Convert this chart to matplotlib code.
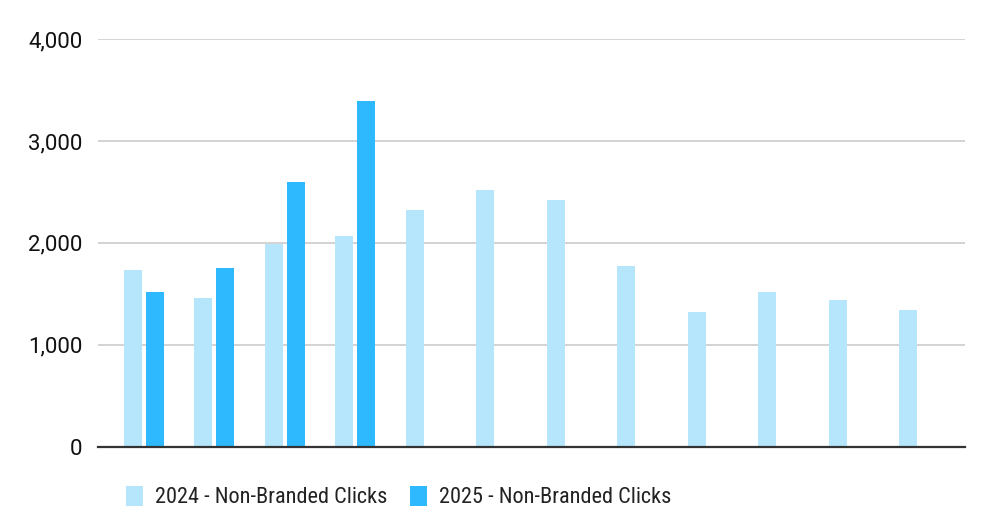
import numpy as np
import matplotlib
matplotlib.use("Agg")
import matplotlib.pyplot as plt
from matplotlib.patches import Patch
from matplotlib import font_manager

plt.rcParams['font.family'] = ['Roboto', 'DejaVu Sans']

# monthly non-branded clicks (12 months, 2025 only has the first 4)
months = np.arange(12)
clicks_2024 = [1730, 1455, 1985, 2065, 2320, 2515, 2418, 1770, 1320, 1515, 1438, 1340]
clicks_2025 = [1514, 1752, 2595, 3396]

yticks = [0, 1000, 2000, 3000, 4000]
ytick_labels = ['0', '1,000', '2,000', '3,000', '4,000']
series_labels = ['2024 - Non-Branded Clicks', '2025 - Non-Branded Clicks']

LIGHT = '#b5e6fc'
DARK = '#2eb8fe'

# legend text in the reference is narrow; use a condensed face if one exists
names = {f.name for f in font_manager.fontManager.ttflist}
if 'Roboto Condensed' in names:
    legend_font, legend_size = 'Roboto Condensed', 16
else:
    legend_font, legend_size = 'Roboto', 13

fig = plt.figure(figsize=(9.91, 5.26), dpi=100)
ax = fig.add_axes([0.0989, 0.1507, 0.8749, 0.7751])

w = 0.256
off = 0.156
ax.bar(months - off, clicks_2024, width=w, color=LIGHT, zorder=3)
ax.bar(months[:len(clicks_2025)] + off, clicks_2025, width=w, color=DARK, zorder=3)

ax.set_xlim(-0.65, 11.65)
ax.set_ylim(0, 4000)
ax.set_yticks(yticks)
ax.set_yticklabels(ytick_labels, fontsize=16, color='#111111')
ax.set_xticks([])
ax.tick_params(axis='y', length=0, pad=11)
ax.grid(axis='y', color='#c8c8c8', linewidth=1.1, zorder=0)
for side in ['top', 'right', 'left']:
    ax.spines[side].set_visible(False)
ax.spines['bottom'].set_color('#333333')
ax.spines['bottom'].set_linewidth(1.6)
ax.spines['bottom'].set_zorder(4)

handles = [Patch(facecolor=LIGHT, label=series_labels[0]),
           Patch(facecolor=DARK, label=series_labels[1])]
leg = fig.legend(handles=handles, loc='center', bbox_to_anchor=(0.402, 0.055),
                 ncol=2, frameon=False,
                 prop={'family': legend_font, 'size': legend_size},
                 handlelength=17 / (legend_size * 1.389),
                 handleheight=23 / (legend_size * 1.389),
                 handletextpad=12 / (legend_size * 1.389),
                 columnspacing=23 / (legend_size * 1.389),
                 labelcolor='#222222')

fig.savefig('out.png', dpi=100)
